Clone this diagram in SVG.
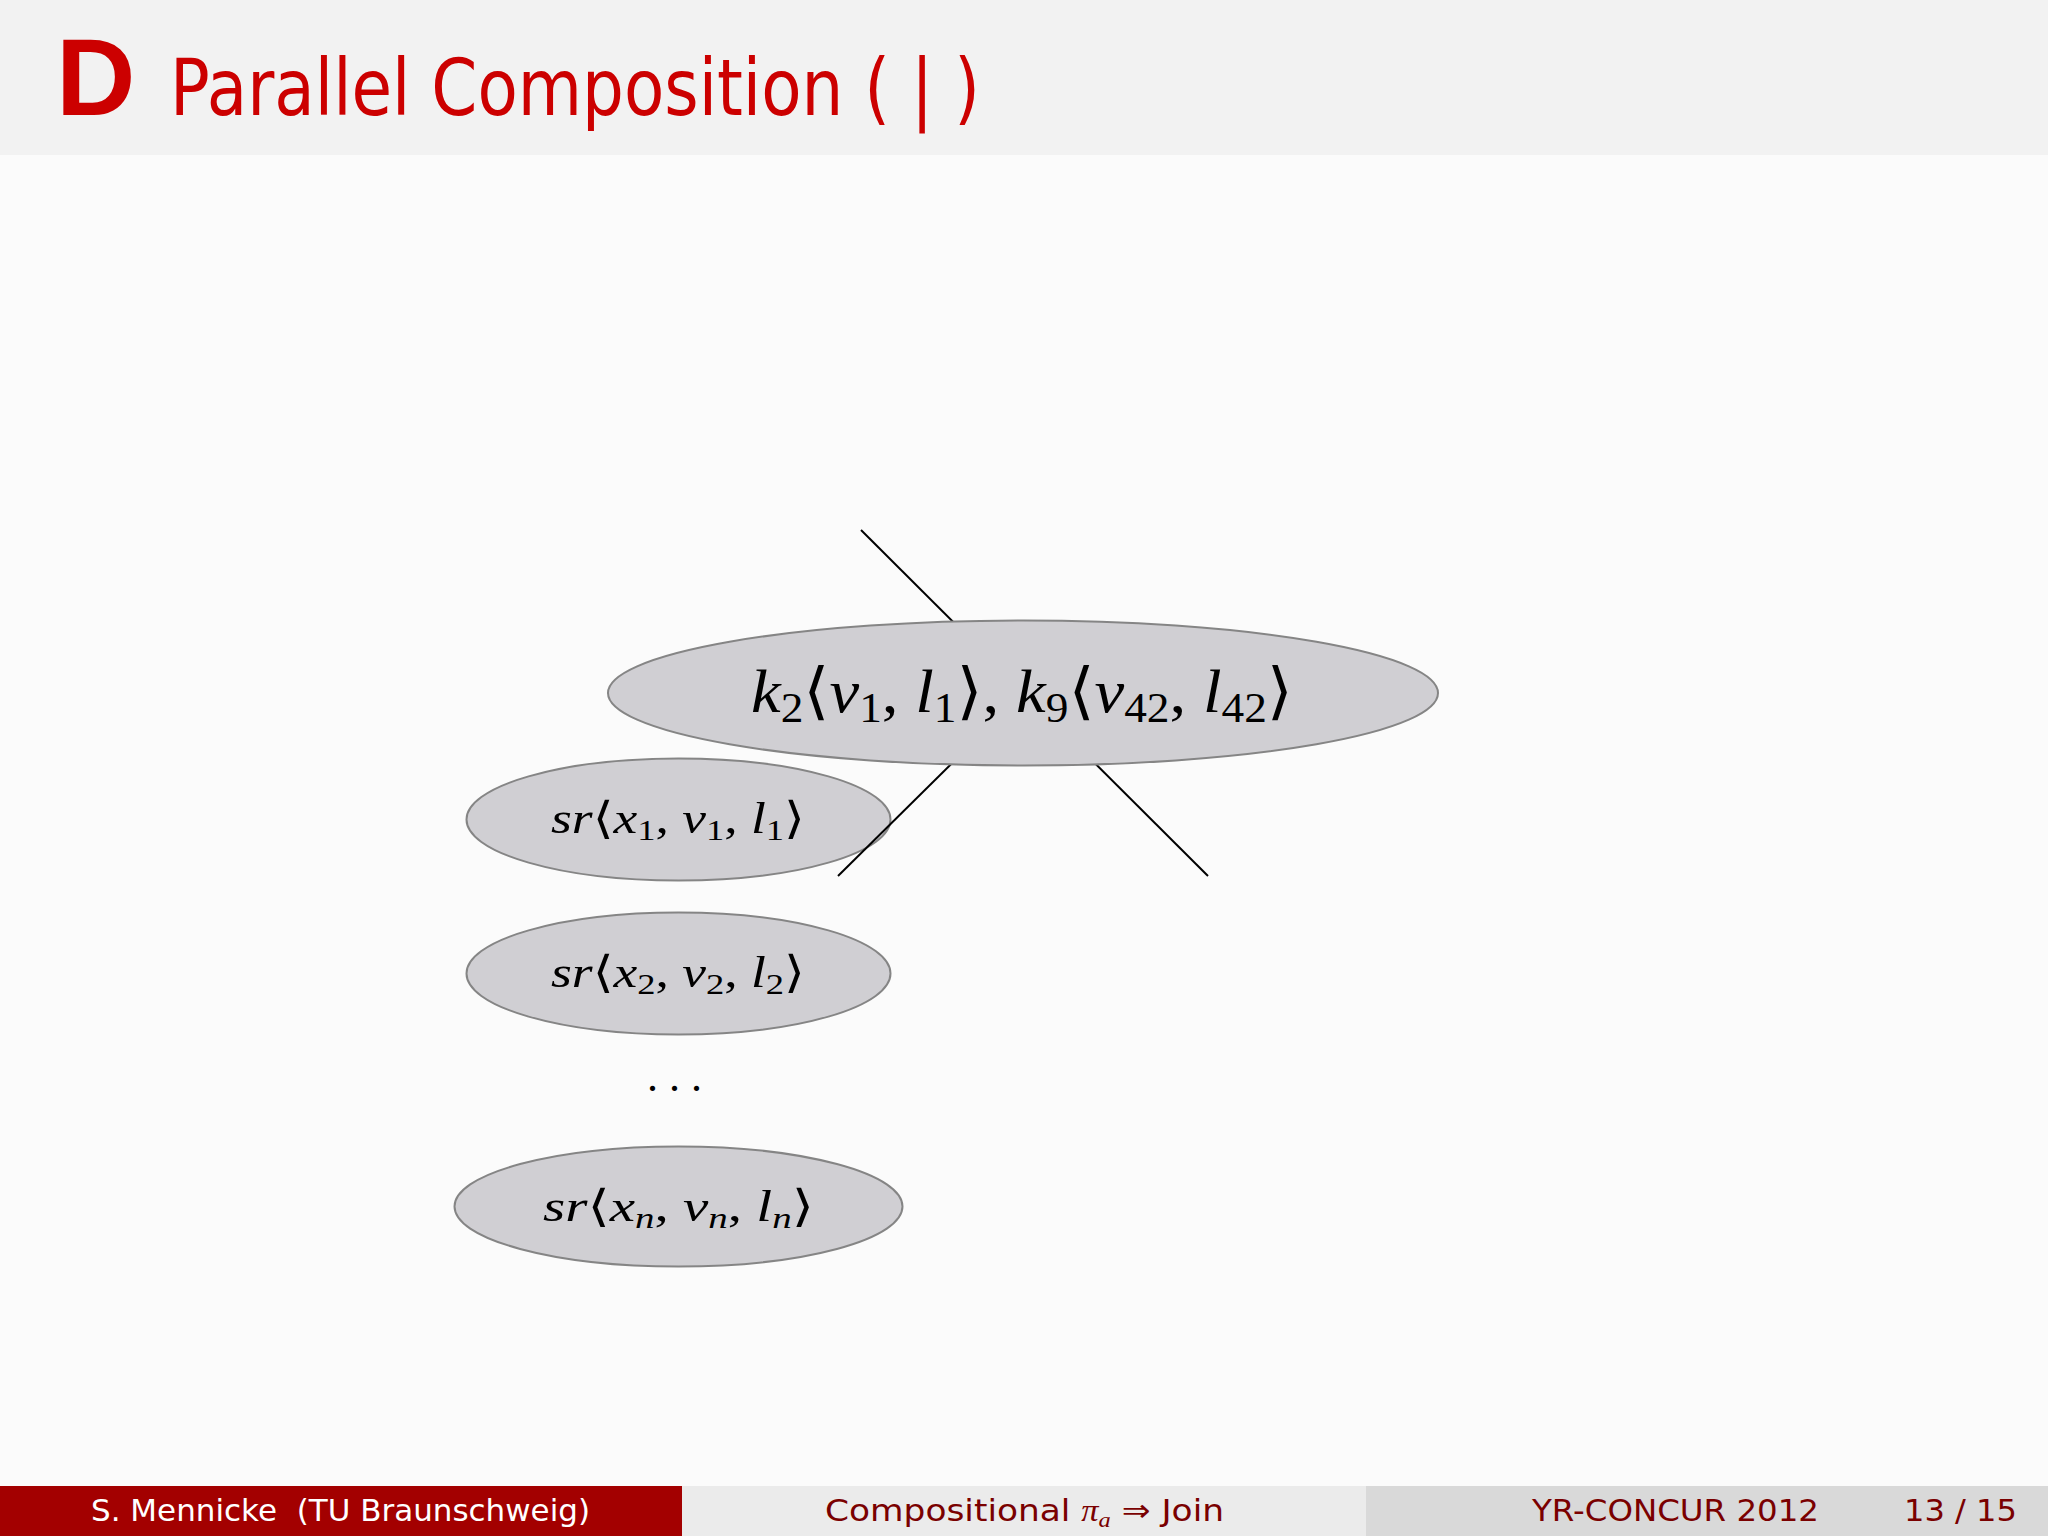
<svg xmlns="http://www.w3.org/2000/svg" width="2048" height="1536" viewBox="0 0 2048 1536">
<style>
.bg{fill:#fbfbfb}
.node{fill:#d0cfd3;stroke:#858585;stroke-width:2}
.edge{stroke:#000;stroke-width:2;fill:none}
.math{font-family:"Liberation Serif","DejaVu Serif",serif;fill:#000}
.it{font-style:italic}
.ft{font-family:"DejaVu Sans","Liberation Sans",sans-serif;font-size:31px}
</style>
<rect class="bg" x="0" y="0" width="2048" height="1536"/>
<g id="title">
<rect x="0" y="0" width="2048" height="155" fill="#f2f2f2"/>
<text x="56" y="115" font-family="Liberation Sans,Arial,sans-serif" font-weight="bold" font-size="110" fill="#cc0000">D</text>
<text x="170" y="115" font-family="DejaVu Sans,Liberation Sans,sans-serif" font-size="78" fill="#cc0000" textLength="810" lengthAdjust="spacingAndGlyphs">Parallel Composition ( | )</text>
</g>
<g id="sr1">
<ellipse class="node" cx="678.5" cy="819.5" rx="212" ry="61"/>
<text class="math" font-size="44" x="551" y="833" textLength="254" lengthAdjust="spacingAndGlyphs"><tspan class="it">sr</tspan>⟨<tspan class="it">x</tspan><tspan font-size="30" dy="7">1</tspan><tspan dy="-7">, </tspan><tspan class="it">v</tspan><tspan font-size="30" dy="7">1</tspan><tspan dy="-7">, </tspan><tspan class="it">l</tspan><tspan font-size="30" dy="7">1</tspan><tspan dy="-7">⟩</tspan></text>
</g>
<g id="connectors">
<line class="edge" x1="861" y1="530" x2="1208" y2="876"/>
<line class="edge" x1="838" y1="876" x2="1024" y2="692"/>
</g>
<g id="k">
<ellipse class="node" cx="1023" cy="693" rx="415" ry="72.5"/>
<text class="math" font-size="62" x="751" y="712" textLength="542" lengthAdjust="spacingAndGlyphs"><tspan class="it">k</tspan><tspan font-size="42" dy="10">2</tspan><tspan dy="-10">⟨</tspan><tspan class="it">v</tspan><tspan font-size="42" dy="10">1</tspan><tspan dy="-10">, </tspan><tspan class="it">l</tspan><tspan font-size="42" dy="10">1</tspan><tspan dy="-10">⟩, </tspan><tspan class="it">k</tspan><tspan font-size="42" dy="10">9</tspan><tspan dy="-10">⟨</tspan><tspan class="it">v</tspan><tspan font-size="42" dy="10">42</tspan><tspan dy="-10">, </tspan><tspan class="it">l</tspan><tspan font-size="42" dy="10">42</tspan><tspan dy="-10">⟩</tspan></text>
</g>
<g id="sr2">
<ellipse class="node" cx="678.5" cy="973.5" rx="212" ry="61"/>
<text class="math" font-size="44" x="551" y="987" textLength="254" lengthAdjust="spacingAndGlyphs"><tspan class="it">sr</tspan>⟨<tspan class="it">x</tspan><tspan font-size="30" dy="7">2</tspan><tspan dy="-7">, </tspan><tspan class="it">v</tspan><tspan font-size="30" dy="7">2</tspan><tspan dy="-7">, </tspan><tspan class="it">l</tspan><tspan font-size="30" dy="7">2</tspan><tspan dy="-7">⟩</tspan></text>
</g>
<g id="dots">
<text class="math" font-size="44" x="674.5" y="1091" text-anchor="middle">. . .</text>
</g>
<g id="srn">
<ellipse class="node" cx="678.5" cy="1206.5" rx="224" ry="60"/>
<text class="math" font-size="44" x="543" y="1221" textLength="271" lengthAdjust="spacingAndGlyphs"><tspan class="it">sr</tspan>⟨<tspan class="it">x</tspan><tspan class="it" font-size="30" dy="7">n</tspan><tspan dy="-7">, </tspan><tspan class="it">v</tspan><tspan class="it" font-size="30" dy="7">n</tspan><tspan dy="-7">, </tspan><tspan class="it">l</tspan><tspan class="it" font-size="30" dy="7">n</tspan><tspan dy="-7">⟩</tspan></text>
</g>
<g id="footer">
<rect x="0" y="1486" width="682" height="50" fill="#a30000"/>
<rect x="682" y="1486" width="684" height="50" fill="#ebebeb"/>
<rect x="1366" y="1486" width="682" height="50" fill="#d9d9d9"/>
<text class="ft" x="91" y="1521" fill="#ffffff" xml:space="preserve" textLength="499" lengthAdjust="spacingAndGlyphs">S. Mennicke  (TU Braunschweig)</text>
<text class="ft" x="825" y="1521" fill="#7a0000" textLength="399" lengthAdjust="spacingAndGlyphs">Compositional <tspan font-family="Liberation Serif,serif" font-style="italic">π</tspan><tspan font-family="Liberation Serif,serif" font-style="italic" font-size="22" dy="6">a</tspan><tspan dy="-6"> ⇒ Join</tspan></text>
<text class="ft" x="1532" y="1521" fill="#7a0000" textLength="287" lengthAdjust="spacingAndGlyphs">YR-CONCUR 2012</text>
<text class="ft" x="1904" y="1521" fill="#7a0000" textLength="113" lengthAdjust="spacingAndGlyphs">13 / 15</text>
</g>
</svg>
